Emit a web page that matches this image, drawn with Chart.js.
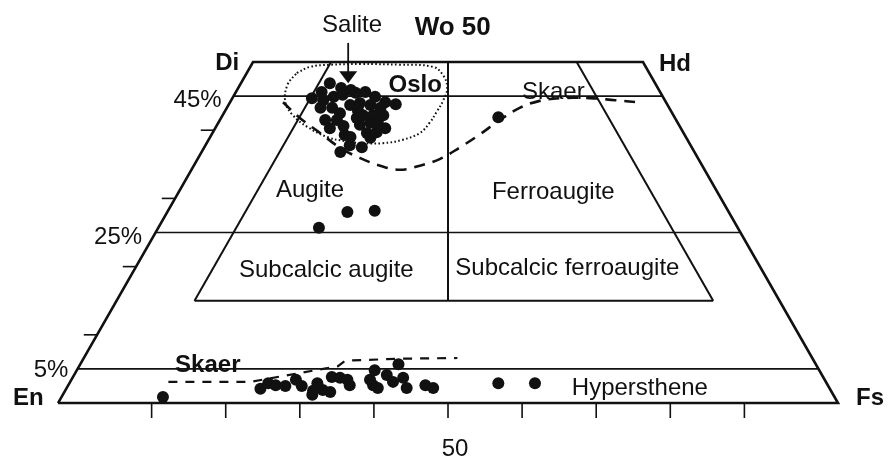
<!DOCTYPE html>
<html lang="en">
<head>
    <meta charset="UTF-8">
    <title>Pyroxene quadrilateral</title>
    <script src="https://cdn.jsdelivr.net/npm/chart.js"></script>
    <style>
        body {
            margin: 0;
            background: #fff;
        }
        .wrap {
            width: 889px;
            height: 464px;
        }
    </style>
</head>
<body>
    <div class="wrap"><canvas id="quad"></canvas></div>

    <script>
        // Ca-rich pyroxenes (Oslo field, augites, Skaer trend) - Wo and Fs in mol %
        const highCaWo = [46.9, 46.2, 45.6, 44.7, 44.4, 44.9, 45.2, 43.3, 43.3, 41.5, 41.5, 40.3, 42.5, 43.7, 39.3,
            45.5, 45.6, 44.9, 44.1, 43.8, 44.0, 43.7, 43.3, 42.2, 42.2, 42.2, 40.8, 41.1, 40.3, 39.6, 39.7, 38.9,
            41.8, 41.2, 37.8, 37.5, 36.8, 28.0, 28.2, 25.7, 41.9, 45.9, 42.9, 40.6, 39.0];
        const highCaFs = [11.4, 13.2, 11.0, 10.2, 11.8, 12.9, 13.9, 12.0, 13.5, 13.5, 15.0, 14.7, 14.9, 15.6, 17.1,
            15.4, 16.6, 18.2, 19.9, 21.4, 16.7, 18.2, 19.7, 18.0, 19.3, 20.6, 18.3, 19.5, 21.8, 19.8, 21.0, 20.6,
            17.4, 20.4, 18.5, 20.2, 17.8, 23.1, 26.5, 20.6, 35.5, 14.6, 17.0, 16.3, 18.0];

        // Ca-poor pyroxenes (hypersthene band)
        const lowCaWo = [0.9, 2.1, 2.9, 2.6, 2.5, 3.4, 2.5, 1.8, 1.2, 2.9, 1.9, 1.6, 3.8, 3.7, 3.4, 2.6, 4.8, 2.6,
            2.2, 4.1, 3.1, 5.7, 3.7, 2.2, 2.6, 2.2, 2.9, 2.9, 3.4];
        const lowCaFs = [13.0, 24.9, 25.5, 26.6, 27.9, 28.8, 30.0, 31.8, 32.0, 31.8, 33.0, 34.1, 33.2, 34.3, 35.4,
            36.1, 38.2, 39.1, 39.9, 40.1, 41.4, 40.8, 42.4, 43.6, 45.8, 47.0, 55.0, 59.7, 38.3];

        // Oslo field outline
        const osloWo = [48.4, 49.3, 49.6, 49.7, 49.6, 49.3, 48.1, 46.2, 44.4, 42.7, 41.1, 39.6, 38.6, 38.1, 38.1,
            38.4, 39.0, 40.5, 42.2, 44.1, 46.6, 48.4];
        const osloFs = [6.4, 7.7, 10.1, 13.9, 19.0, 23.4, 25.3, 26.8, 27.2, 27.2, 27.1, 26.6, 24.9, 22.6, 20.0,
            17.6, 15.0, 11.7, 9.0, 7.1, 6.1, 6.4];

        // Skaer trends: Ca-rich and Ca-poor
        const skaerHighWo = [44.1, 41.8, 39.6, 37.4, 35.9, 34.8, 34.2, 34.8, 35.8, 37.5, 39.4, 41.5, 43.3, 44.3,
            44.7, 44.7, 44.4, 44.1];
        const skaerHighFs = [6.8, 10.1, 13.8, 17.5, 20.8, 23.9, 26.7, 29.0, 31.1, 32.8, 34.4, 35.9, 37.6, 39.6,
            42.0, 45.8, 49.2, 52.3];
        const skaerLowWo = [3.1, 3.1, 5.4, 6.2, 6.5, 6.6];
        const skaerLowFs = [12.6, 23.1, 33.2, 33.7, 40.6, 47.9];

        // field boundaries
        const woLevels = [45, 25, 5];
        const woLabels = ['45%', '25%', '5%'];
        const sideTicks = [40, 30, 20, 10];
        const baseTicks = [12, 21.5, 31, 40.5, 50, 59.5, 69, 78.5, 88];
        const fieldTop = 50, fieldBase = 15;
        const augiteFs = 10, ferroEn = 8.5;

        // ternary (Wo, Fs) -> plot coordinates
        const tp = (wo, fs) => ({ x: fs + wo / 2, y: wo });
        const pts = (wo, fs) => wo.map((w, i) => tp(w, fs[i]));

        const ink = '#111';
        const seg = (data, width, dash) => ({
            data, showLine: true, borderColor: ink, borderWidth: width,
            borderDash: dash || [], pointRadius: 0, fill: false, tension: 0, order: 5
        });

        const datasets = [
            { data: pts(highCaWo, highCaFs), backgroundColor: ink, borderWidth: 0, pointRadius: 6, order: 1 },
            { data: pts(lowCaWo, lowCaFs), backgroundColor: ink, borderWidth: 0, pointRadius: 6, order: 1 },
            seg([tp(0, 0), tp(0, 100), tp(50, 50), tp(50, 0), tp(0, 0)], 2.6),
            ...woLevels.map(w => seg([tp(w, 0), tp(w, 100 - w)], 1.6)),
            seg([tp(fieldTop, augiteFs), tp(fieldBase, augiteFs)], 2),
            seg([tp(fieldTop, 100 - fieldTop - ferroEn), tp(fieldBase, 100 - fieldBase - ferroEn)], 2),
            seg([tp(fieldTop, (100 - fieldTop) / 2), tp(fieldBase, (100 - fieldBase) / 2)], 2),
            seg([tp(fieldBase, augiteFs), tp(fieldBase, 100 - fieldBase - ferroEn)], 2),
            ...sideTicks.map(w => seg([{ x: w / 2 - 1.7, y: w }, { x: w / 2, y: w }], 1.6)),
            ...baseTicks.map(f => seg([tp(0, f), tp(-2.2, f + 1.1)], 1.6)),
            Object.assign(seg(pts(osloWo, osloFs), 2, [1.6, 2.4]), { tension: 0.4 }),
            Object.assign(seg(pts(skaerHighWo, skaerHighFs), 2.6, [11, 8]), { tension: 0.4 }),
            seg(pts(skaerLowWo, skaerLowFs), 2.2, [9, 8])
        ];

        // text labels and the Salite arrow
        const labelPlugin = {
            id: 'labels',
            afterDatasetsDraw(chart) {
                const { ctx, scales: { x, y } } = chart;
                const px = v => x.getPixelForValue(v), py = v => y.getPixelForValue(v);
                const reg = '24px "Liberation Sans", Arial, sans-serif';
                const bold = 'bold 24px "Liberation Sans", Arial, sans-serif';
                const texts = [
                    ['Salite', 37.7, 54.4, reg], ['Wo 50', 50.6, 54.0, 'bold 26px "Liberation Sans", Arial, sans-serif'],
                    ['Di', 21.7, 48.8, bold], ['Hd', 79.1, 48.7, bold],
                    ['En', -3.8, -0.3, bold], ['Fs', 104.1, -0.3, bold],
                    ['Oslo', 45.8, 45.6, bold], ['Skaer', 63.5, 44.6, reg],
                    ['Augite', 32.3, 30.2, reg], ['Ferroaugite', 63.5, 29.9, reg],
                    ['Subcalcic augite', 34.4, 18.5, reg], ['Subcalcic ferroaugite', 65.3, 18.8, reg],
                    ['Skaer', 19.2, 4.5, bold], ['Hypersthene', 74.6, 1.2, reg],
                    ['50', 50.9, -7.8, reg]
                ];
                const levelPos = [[17.9, 43.4], [7.7, 23.3], [-0.9, 3.8]];
                ctx.save();
                ctx.fillStyle = ink;
                ctx.textAlign = 'center';
                ctx.textBaseline = 'alphabetic';
                texts.forEach(([t, tx, ty, f]) => {
                    ctx.font = f;
                    ctx.fillText(t, px(tx), py(ty));
                });
                ctx.font = reg;
                woLabels.forEach((t, i) => ctx.fillText(t, px(levelPos[i][0]), py(levelPos[i][1])));

                // arrow pointing at the Salite group
                const ax = px(37.2), a0 = py(52.8), tip = py(46.9);
                ctx.strokeStyle = ink;
                ctx.lineWidth = 1.8;
                ctx.beginPath();
                ctx.moveTo(ax, a0);
                ctx.lineTo(ax, tip - 10);
                ctx.stroke();
                ctx.beginPath();
                ctx.moveTo(ax - 9, tip - 12);
                ctx.lineTo(ax + 9, tip - 12);
                ctx.lineTo(ax, tip);
                ctx.closePath();
                ctx.fill();
                ctx.restore();
            }
        };

        new Chart(document.getElementById('quad'), {
            type: 'scatter',
            data: { datasets },
            options: {
                responsive: true,
                maintainAspectRatio: false,
                animation: false,
                layout: { padding: 0, autoPadding: false },
                plugins: { legend: { display: false }, tooltip: { enabled: false } },
                scales: {
                    x: { type: 'linear', min: -7.44, max: 106.54, display: false },
                    y: { type: 'linear', min: -8.94, max: 59.09, display: false }
                }
            },
            plugins: [labelPlugin]
        });
    </script>
</body>
</html>
